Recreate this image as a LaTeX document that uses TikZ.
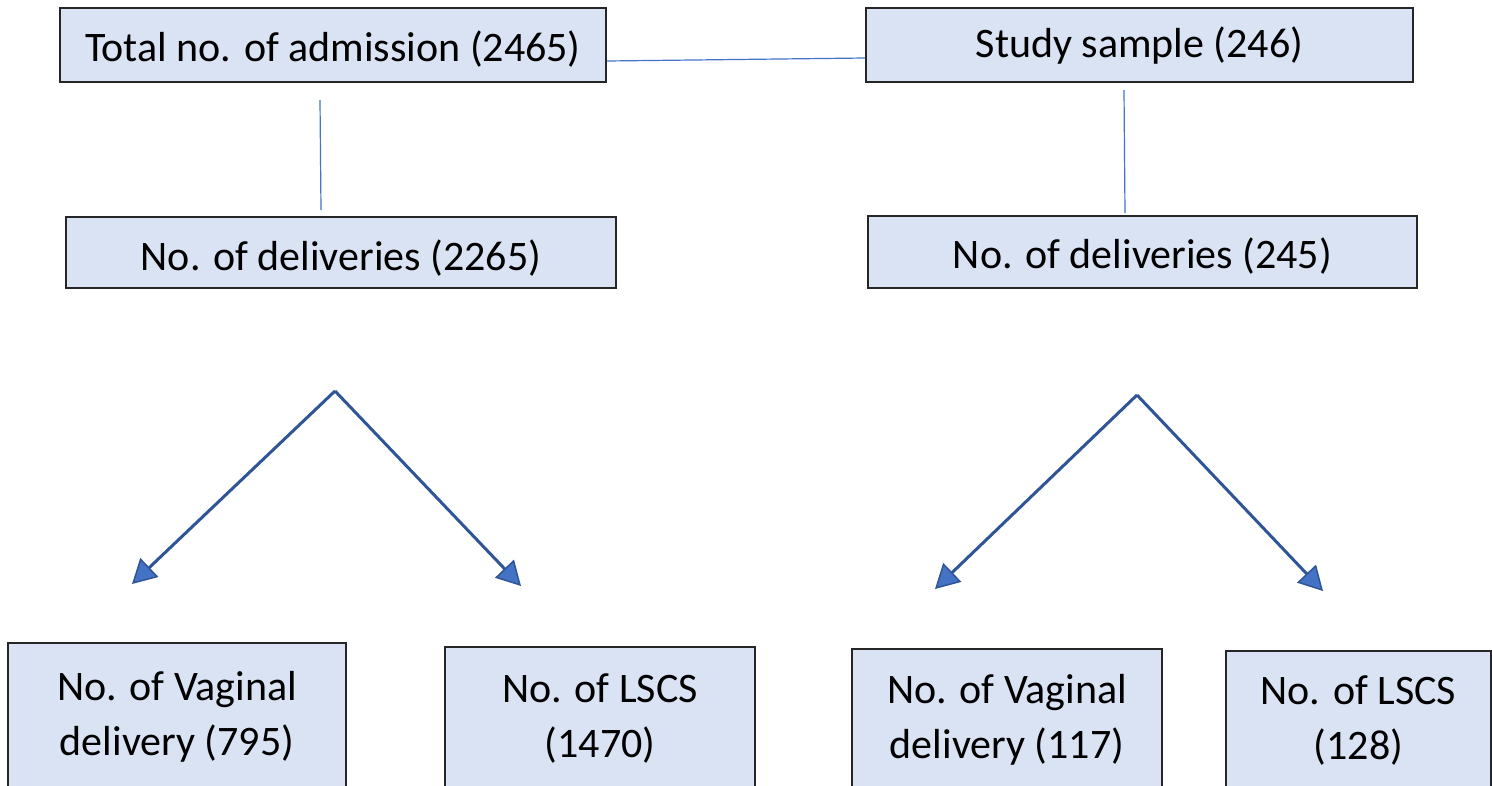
\documentclass[tikz,border=0pt]{standalone}
\usepackage{fontspec}
\setmainfont{Carlito}
\usetikzlibrary{arrows.meta}
\definecolor{boxfill}{HTML}{DAE3F3}
\definecolor{thinline}{HTML}{4472C4}
\definecolor{arrline}{HTML}{2F5597}
\definecolor{arrfill}{HTML}{4472C4}
\tikzset{
  flowbox/.style={draw=black!85, line width=1.6pt, fill=boxfill, rectangle, inner sep=0pt,
    align=center, font=\fontsize{42}{55}\selectfont, text=black},
  thin link/.style={draw=thinline, line width=1.2pt},
  split arrow/.style={draw=arrline, line width=3pt,
    -{Triangle[length=24pt,width=26pt,fill=arrfill,line width=1.5pt]}}
}
\begin{document}
\begin{tikzpicture}[x=1pt,y=-1pt]
\clip (0,0) rectangle (1492,785);
\fill[white] (0,0) rectangle (1492,785);
% top row
\node[flowbox, minimum width=546pt, minimum height=74pt, text height=32pt, text depth=0pt] (adm) at (333,45) {Total no. of admission (2465)};
\node[flowbox, minimum width=547pt, minimum height=74pt, text height=24pt, text depth=0pt] (study) at (1139.5,45) {Study sample (246)};
% second row
\node[flowbox, minimum width=550pt, minimum height=71pt, text height=35pt, text depth=0pt] (delL) at (341,252.5) {No. of deliveries (2265)};
\node[flowbox, minimum width=549pt, minimum height=72pt, text height=32pt, text depth=0pt] (delR) at (1142.5,252) {No. of deliveries (245)};
% bottom row
\node[flowbox, minimum width=338pt, minimum height=147pt] (vagL) at (177,716.5) {No. of Vaginal\\delivery (795)};
\node[flowbox, minimum width=310pt, minimum height=143pt] (lscsL) at (600,718.5) {No. of LSCS\\(1470)};
\node[flowbox, minimum width=310pt, minimum height=141pt] (vagR) at (1007,719.5) {No. of Vaginal\\delivery (117)};
\node[flowbox, minimum width=265pt, minimum height=139pt] (lscsR) at (1358.5,720.5) {No. of LSCS\\(128)};
% thin connectors
\draw[thin link] ([yshift=-16pt]adm.east) -- ([yshift=-13pt]study.west);
\coordinate (lA) at (320,100);
\coordinate (lB) at (321,210);
\draw[thin link] (lA) -- (lB);
\coordinate (rA) at (1124,90);
\coordinate (rB) at (1125,213);
\draw[thin link] (rA) -- (rB);
% split arrows
\coordinate (apexL) at (335,391);
\coordinate (tipL1) at (132,584);
\coordinate (tipL2) at (521,586);
\draw[split arrow] (apexL) -- (tipL1);
\draw[split arrow] (apexL) -- (tipL2);
\coordinate (apexR) at (1137,395);
\coordinate (tipR1) at (935,589);
\coordinate (tipR2) at (1323,591);
\draw[split arrow] (apexR) -- (tipR1);
\draw[split arrow] (apexR) -- (tipR2);
\end{tikzpicture}
\end{document}
